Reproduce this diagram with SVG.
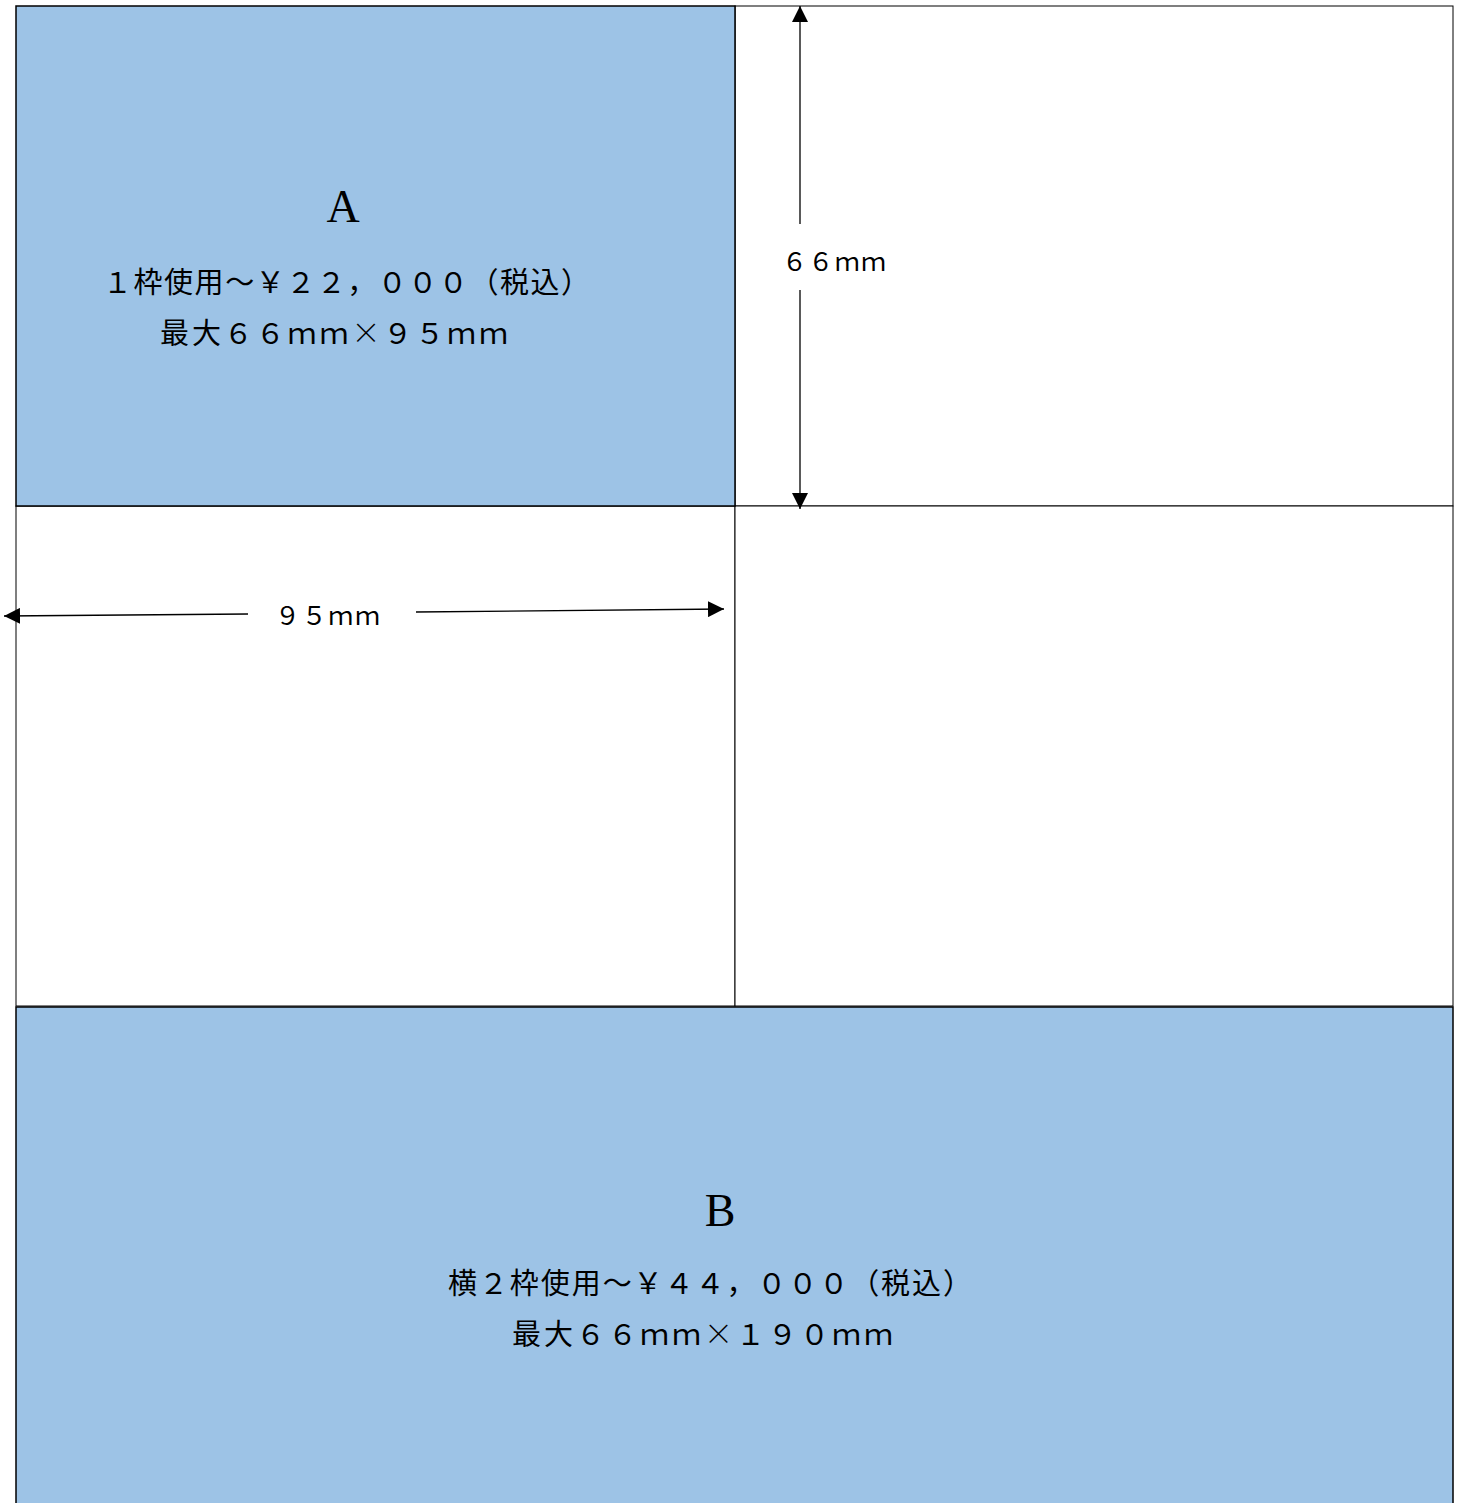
<svg xmlns="http://www.w3.org/2000/svg" width="1462" height="1503" viewBox="0 0 1462 1503">
<style>
.cell{fill:#fff;stroke:#000;stroke-width:1}
.blue{fill:#9DC3E6;stroke:#000;stroke-width:1.5}
.t{font-family:"Liberation Serif","Noto Sans CJK JP",serif;fill:#000}
.cjk{font-family:"Noto Sans CJK JP",sans-serif;font-weight:300}
.big{font-size:46px}
.lbl{font-size:29px}
.dim{font-size:25px}
.ln{stroke:#000;stroke-width:1.3;fill:none}
</style>
<defs>
<marker id="ah" viewBox="0 0 10 10" refX="10" refY="5" markerWidth="16" markerHeight="16" markerUnits="userSpaceOnUse" orient="auto">
<path d="M0,0 L10,5 L0,10 Z" fill="#000"/>
</marker>
</defs>
<rect width="1462" height="1503" fill="#fff"/>
<g id="grid">
<rect class="cell" x="735" y="6" width="718" height="500"/>
<rect class="cell" x="16" y="506" width="719" height="500"/>
<rect class="cell" x="735" y="506" width="718" height="500"/>
</g>
<g id="nodeA">
<rect class="blue" x="16" y="6" width="719" height="500"/>
<text class="t big" x="343" y="222" text-anchor="middle">A</text>
<text class="t lbl" x="103" y="293" textLength="487" lengthAdjust="spacing">１枠使用～￥２２，０００（税込）</text>
<text class="t lbl" x="160" y="344" textLength="348" lengthAdjust="spacing">最大６６ｍｍ<tspan class="cjk">×</tspan>９５ｍｍ</text>
</g>
<g id="nodeB">
<rect class="blue" x="16" y="1007" width="1437" height="500"/>
<text class="t big" x="720" y="1226" text-anchor="middle">B</text>
<text class="t lbl" x="448" y="1294" textLength="524" lengthAdjust="spacing">横２枠使用～￥４４，０００（税込）</text>
<text class="t lbl" x="512" y="1345" textLength="381" lengthAdjust="spacing">最大６６ｍｍ<tspan class="cjk">×</tspan>１９０ｍｍ</text>
</g>
<g id="connectors">
<line class="ln" x1="800" y1="224" x2="800" y2="6" marker-end="url(#ah)"/>
<line class="ln" x1="800" y1="290" x2="800" y2="509" marker-end="url(#ah)"/>
<line class="ln" x1="248" y1="614" x2="4" y2="616" marker-end="url(#ah)"/>
<line class="ln" x1="416" y1="612" x2="724" y2="609" marker-end="url(#ah)"/>
</g>
<g id="labels">
<text class="t dim" x="782" y="271" textLength="104" lengthAdjust="spacing">６６ｍｍ</text>
<text class="t dim" x="275" y="625" textLength="105" lengthAdjust="spacing">９５ｍｍ</text>
</g>
</svg>
